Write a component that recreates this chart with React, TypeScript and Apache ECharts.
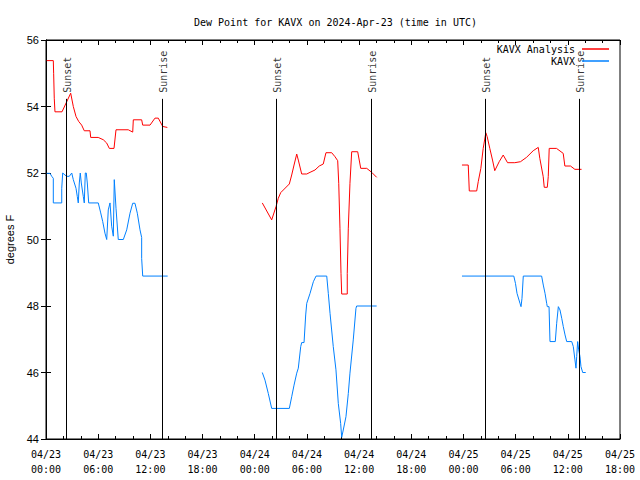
import React, { useEffect, useRef } from "react";
import * as echarts from "echarts";

// hours since 2024-04-23 00:00 UTC, dew point (°F)
const analysisDay1: [number, number][] = [
  [0.08, 55.38], [0.84, 55.38], [0.88, 55.0], [0.95, 54.25], [1.03, 53.84], [1.84, 53.84],
  [2.84, 54.4], [3.14, 54.0], [3.45, 53.7], [3.76, 53.55], [4.1, 53.44], [4.4, 53.27],
  [5.06, 53.27], [5.14, 53.07], [6.0, 53.07], [6.59, 53.0], [6.98, 52.9], [7.28, 52.74],
  [7.82, 52.74], [8.05, 53.3], [9.46, 53.3], [9.97, 53.23], [10.04, 53.6], [11.0, 53.6],
  [11.12, 53.44], [11.96, 53.44], [12.53, 53.65], [12.91, 53.65], [13.42, 53.4], [13.95, 53.37],
];
const analysisDay2: [number, number][] = [
  [24.87, 51.1], [25.95, 50.59], [26.45, 50.99], [26.71, 51.24], [26.99, 51.41], [27.98, 51.67],
  [28.25, 51.94], [28.52, 52.24], [28.83, 52.57], [29.01, 52.39], [29.4, 51.97], [29.98, 51.97],
  [30.36, 52.02], [30.93, 52.09], [31.42, 52.21], [31.88, 52.27], [32.19, 52.61], [32.85, 52.61],
  [33.23, 52.49], [33.54, 52.37], [33.66, 51.69], [33.8, 50.34], [33.92, 48.98], [34.0, 48.36],
  [34.64, 48.36], [34.64, 48.98], [34.76, 50.34], [34.95, 51.69], [35.15, 52.64], [35.84, 52.64],
  [36.19, 52.14], [36.88, 52.14], [37.45, 52.02], [38.02, 51.87],
];
const analysisDay3: [number, number][] = [
  [47.83, 52.24], [48.55, 52.24], [48.67, 51.46], [49.52, 51.46], [49.7, 51.74], [50.0, 52.14],
  [50.27, 52.74], [50.57, 53.21], [50.73, 53.09], [51.03, 52.74], [51.34, 52.39], [51.6, 52.07],
  [52.11, 52.34], [52.57, 52.54], [53.07, 52.31], [53.9, 52.31], [54.56, 52.34], [55.25, 52.47],
  [56.02, 52.67], [56.6, 52.77], [56.78, 52.44], [57.17, 51.89], [57.29, 51.57], [57.64, 51.57],
  [57.75, 51.89], [57.86, 52.74], [58.7, 52.74], [59.47, 52.59], [59.66, 52.21], [60.31, 52.21],
  [60.81, 52.11], [61.58, 52.11],
];
const obsDay1: [number, number][] = [
  [0.08, 51.99], [0.46, 51.99], [0.66, 51.9], [0.84, 51.84], [0.84, 51.1], [1.81, 51.1],
  [1.81, 51.54], [1.92, 52.0], [2.18, 51.94], [2.38, 51.9], [2.68, 51.9], [2.96, 52.0],
  [3.14, 51.8], [3.45, 51.54], [3.6, 51.29], [3.71, 51.1], [3.83, 51.7], [3.94, 52.0],
  [4.06, 51.7], [4.29, 51.29], [4.4, 51.1], [4.52, 52.0], [4.63, 52.0], [4.75, 51.7],
  [4.91, 51.1], [6.01, 51.1], [6.29, 50.8], [6.52, 50.54], [6.78, 50.19], [6.98, 50.0],
  [7.16, 50.89], [7.36, 51.1], [7.55, 50.4], [7.74, 50.1], [7.85, 51.8], [8.05, 50.94],
  [8.31, 50.0], [8.89, 50.0], [9.28, 50.29], [9.66, 50.79], [9.97, 51.09], [10.23, 51.09],
  [10.5, 50.79], [10.81, 50.29], [11.0, 50.06], [11.0, 49.43], [11.12, 48.9], [13.99, 48.9],
];
const obsDay2: [number, number][] = [
  [24.87, 46.0], [25.18, 45.77], [25.56, 45.37], [25.95, 44.92], [27.98, 44.92], [28.25, 45.27],
  [28.52, 45.62], [28.83, 45.98], [29.01, 46.13], [29.29, 46.78], [29.4, 46.9], [29.67, 46.9],
  [29.86, 47.73], [29.98, 48.08], [30.36, 48.38], [30.74, 48.73], [31.05, 48.9], [32.28, 48.9],
  [32.46, 48.38], [32.66, 47.78], [33.03, 46.78], [33.34, 46.08], [33.61, 45.07], [33.88, 44.47],
  [34.0, 44.05], [34.18, 44.27], [34.49, 44.67], [34.76, 45.37], [34.95, 45.98], [35.33, 46.98],
  [35.64, 47.93], [35.72, 48.0], [38.02, 48.0],
];
const obsDay3: [number, number][] = [
  [47.83, 48.9], [53.79, 48.9], [53.98, 48.68], [54.16, 48.38], [54.5, 48.08], [54.62, 47.98],
  [54.73, 48.23], [54.88, 48.9], [56.99, 48.9], [57.18, 48.63], [57.38, 48.38], [57.57, 48.08],
  [57.64, 47.98], [57.84, 47.98], [57.95, 46.93], [58.56, 46.93], [58.72, 47.48], [58.91, 47.98],
  [59.1, 47.88], [59.3, 47.63], [59.48, 47.38], [59.68, 47.13], [59.87, 46.93], [60.45, 46.93],
  [60.63, 46.78], [60.82, 46.38], [60.94, 46.13], [61.02, 46.48], [61.13, 46.93], [61.25, 46.68],
  [61.4, 46.48], [61.51, 46.18], [61.71, 46.0], [62.06, 46.0],
];
const sunsetHours = [2.38, 26.45, 50.55];
const sunriseHours = [13.42, 37.41, 61.32];
const sunLineTop = 54.23;
const yTicks = { min: 44, max: 56, step: 2 };
const xTicks = { min: 0, max: 66, step: 6 };

const MONO = "DejaVu Sans Mono";
const SANS = "Liberation Sans";

function joinDays(days: [number, number][][]) {
  const out: any[] = [];
  days.forEach((d, i) => {
    if (i > 0) out.push([d[0][0] - 0.5, null]);
    d.forEach((p) => out.push(p));
  });
  return out;
}

export default function App() {
  const ref = useRef<HTMLDivElement>(null);
  useEffect(() => {
    if (!ref.current) return;
    const chart = echarts.init(ref.current, undefined, { renderer: "svg" });
    const fmtX = (v: number) => {
      const day = 23 + Math.floor(v / 24);
      const hr = v % 24;
      return `04/${day}\n${String(hr).padStart(2, "0")}:00`;
    };
    const sunData = [
      ...sunsetHours.map((h) => [h, sunLineTop, "Sunset"]),
      ...sunriseHours.map((h) => [h, sunLineTop, "Sunrise"]),
    ];
    const sunLines = [...sunsetHours, ...sunriseHours].map((h) => [
      { coord: [h, yTicks.min] },
      { coord: [h, sunLineTop] },
    ]);
    const baseX = {
      type: "value",
      min: xTicks.min,
      max: xTicks.max,
      interval: xTicks.step,
      splitLine: { show: false },
      axisLine: { show: true, lineStyle: { color: "#000", width: 1 } },
      axisTick: { show: true, inside: true, length: 5, lineStyle: { color: "#000" } },
      minorTick: { show: true, splitNumber: 3, length: 3, lineStyle: { color: "#000" } },
    };
    const baseY = {
      type: "value",
      min: yTicks.min,
      max: yTicks.max,
      interval: yTicks.step,
      splitLine: { show: false },
      axisLine: { show: true, lineStyle: { color: "#000", width: 1 } },
      axisTick: { show: true, inside: true, length: 5, lineStyle: { color: "#000" } },
    };
    chart.setOption({
      animation: false,
      backgroundColor: "#fff",
      title: {
        text: "Dew Point for KAVX on 2024-Apr-23 (time in UTC)",
        left: 189,
        top: 12,
        textStyle: { fontFamily: MONO, fontSize: 10, fontWeight: "normal", color: "#000" },
      },
      legend: {
        data: ["KAVX Analysis", "KAVX"],
        orient: "vertical",
        right: 26,
        top: 38,
        align: "right",
        icon: "rect",
        itemWidth: 27,
        itemHeight: 1.5,
        itemGap: 0,
        textStyle: { fontFamily: MONO, fontSize: 10, color: "#000", padding: [0, 2, 0, 0], lineHeight: 12 },
      },
      grid: {
        left: 46,
        right: 20,
        top: 40,
        bottom: 41,
        containLabel: false,
        outerBoundsMode: "none",
        show: true,
        borderColor: "#000",
        borderWidth: 1,
      },
      xAxis: [
        {
          ...baseX,
          position: "bottom",
          axisLabel: {
            show: true,
            formatter: fmtX,
            fontFamily: MONO,
            fontSize: 10,
            lineHeight: 15,
            color: "#000",
            margin: 8,
            showMinLabel: true,
            showMaxLabel: true,
          },
        },
        { ...baseX, position: "top", axisLabel: { show: false } },
      ],
      yAxis: [
        {
          ...baseY,
          position: "left",
          name: "degrees F",
          nameLocation: "middle",
          nameGap: 31,
          nameTextStyle: { fontFamily: SANS, fontSize: 11, color: "#000" },
          axisLabel: { fontFamily: SANS, fontSize: 11, color: "#000", margin: 7 },
        },
        { ...baseY, position: "right", axisLabel: { show: false } },
      ],
      series: [
        {
          name: "KAVX Analysis",
          type: "line",
          data: joinDays([analysisDay1, analysisDay2, analysisDay3]),
          symbol: "none",
          connectNulls: false,
          lineStyle: { color: "#ff0000", width: 1 },
          itemStyle: { color: "#ff0000" },
          z: 3,
        },
        {
          name: "KAVX",
          type: "line",
          data: joinDays([obsDay1, obsDay2, obsDay3]),
          symbol: "none",
          connectNulls: false,
          lineStyle: { color: "#0080ff", width: 1 },
          itemStyle: { color: "#0080ff" },
          z: 3,
        },
        {
          name: "sun",
          type: "scatter",
          data: sunData,
          symbolSize: 0,
          silent: true,
          z: 2,
          label: {
            show: true,
            formatter: (p: any) => p.data[2],
            position: [1, -6],
            rotate: 90,
            align: "left",
            verticalAlign: "middle",
            fontFamily: MONO,
            fontSize: 10,
            color: "#000",
          },
          markLine: {
            silent: true,
            symbol: ["none", "none"],
            label: { show: false },
            lineStyle: { color: "#000", width: 1, type: "solid" },
            data: sunLines,
          },
        },
      ],
    });
    return () => chart.dispose();
  }, []);
  return (
    <div
      ref={ref}
      style={{ position: "fixed", left: 0, top: 0, width: 640, height: 480, background: "#fff" }}
    />
  );
}
